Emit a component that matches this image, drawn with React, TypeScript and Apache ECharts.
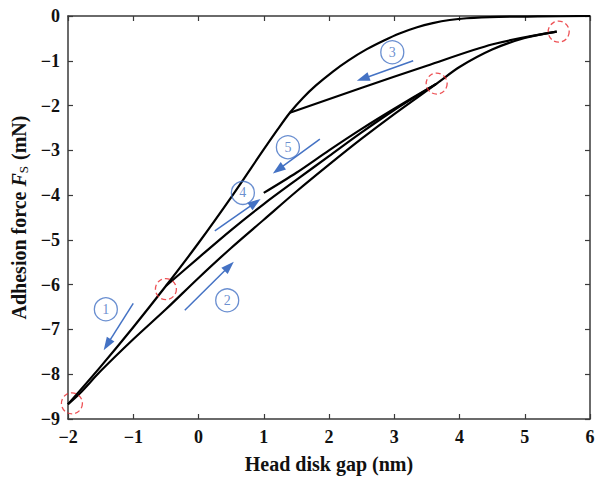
import React, { useEffect, useRef } from "react";
import * as echarts from "echarts";

// x ticks (nm) and y ticks (mN)
const xTicks = [-2, -1, 0, 1, 2, 3, 4, 5, 6];
const yTicks = [-9, -8, -7, -6, -5, -4, -3, -2, -1, 0];

// Curve 1: approach from 6 nm down to -2 nm
const curve1: [number, number][] = [
  [6, 0], [5.2, -0.01], [4.6, -0.02], [4.11, -0.05], [3.85, -0.09], [3.59, -0.16],
  [3.35, -0.25], [3.08, -0.39], [2.85, -0.54], [2.58, -0.74], [2.3, -0.99], [2.06, -1.24],
  [1.8, -1.55], [1.6, -1.83], [1.4, -2.16], [1.2, -2.56], [1.0, -2.98], [0.5, -4.05],
  [0.0, -5.07], [-0.5, -6.03], [-1.0, -6.95], [-1.5, -7.83], [-2, -8.67],
];
// Curve 2: retract from -2 nm to 5.5 nm
const curve2: [number, number][] = [
  [-2, -8.67], [-1.82, -8.43], [-1.5, -7.93], [-1.0, -7.22], [-0.5, -6.55], [0, -5.85],
  [0.5, -5.18], [1.0, -4.55], [1.5, -3.92], [2.0, -3.32], [2.5, -2.74], [3.0, -2.19],
  [3.65, -1.51], [4.0, -1.14], [4.5, -0.75], [5.0, -0.49], [5.49, -0.35],
];
// Curve 3: approach from 5.5 nm to join curve 1
const curve3: [number, number][] = [
  [5.49, -0.35], [4.51, -0.63], [3.5, -1.11], [2.47, -1.62], [1.4, -2.16],
];
// Curve 4: retract from -0.5 nm to 3.65 nm
const curve4: [number, number][] = [
  [-0.5, -6.03], [0, -5.4], [0.5, -4.78], [1.0, -4.2], [1.5, -3.66], [2.0, -3.13],
  [2.5, -2.6], [3.0, -2.1], [3.65, -1.51],
];
// Curve 5: approach from 3.65 nm to 1 nm
const curve5: [number, number][] = [
  [3.65, -1.51], [3.0, -2.07], [2.5, -2.52], [2.0, -3.0], [1.5, -3.5], [1.0, -3.95],
];
// Turning points (red dashed circles)
const turnPoints: [number, number][] = [
  [-1.94, -8.65], [-0.5, -6.1], [3.65, -1.51], [5.52, -0.35],
];
// Direction arrows: [startX, startY, endX, endY]
const arrows: [number, number, number, number][] = [
  [-1.0, -6.42, -1.4, -7.34],
  [-0.21, -6.57, 0.47, -5.59],
  [3.29, -1.0, 2.52, -1.4],
  [0.25, -4.8, 0.87, -4.17],
  [1.86, -2.75, 1.22, -3.43],
];
// Step number labels
const stepLabels: [number, number, string][] = [
  [-1.42, -6.55, "1"],
  [0.44, -6.35, "2"],
  [2.97, -0.81, "3"],
  [0.68, -3.95, "4"],
  [1.37, -2.93, "5"],
];

const BLUE = "#4472C4";
const SERIF = "'Liberation Serif', 'Times New Roman', serif";

export default function App() {
  const ref = useRef<HTMLDivElement>(null);
  useEffect(() => {
    document.body.style.margin = "0";
    const chart = echarts.init(ref.current!, null, { renderer: "svg" });
    const axisLine = { show: true, onZero: false, lineStyle: { color: "#3a3a3a", width: 1.5 } };
    const tick = { show: true, inside: true, length: 5, lineStyle: { color: "#3a3a3a", width: 1.2 } };
    const labelStyle = {
      color: "#111",
      fontFamily: SERIF,
      fontWeight: "bold" as const,
      fontSize: 18,
      formatter: (v: number) => String(v).replace("-", "\u2212"),
    };
    const curveSeries = (data: [number, number][]) => ({
      type: "line",
      data,
      smooth: 0.3,
      symbol: "none",
      lineStyle: { color: "#000", width: 2.2 },
      silent: true,
      z: 3,
    });
    chart.setOption({
      animation: false,
      grid: { left: 68, right: 12, top: 16, bottom: 51 },
      xAxis: [
        {
          type: "value",
          min: xTicks[0],
          max: xTicks[xTicks.length - 1],
          interval: 1,
          position: "bottom",
          axisLine,
          axisTick: tick,
          axisLabel: { ...labelStyle, margin: 9 },
          splitLine: { show: false },
          name: "Head disk gap (nm)",
          nameLocation: "middle",
          nameGap: 35,
          nameTextStyle: { fontFamily: SERIF, fontWeight: "bold", fontSize: 20, color: "#111" },
        },
        {
          type: "value",
          min: xTicks[0],
          max: xTicks[xTicks.length - 1],
          interval: 1,
          position: "top",
          axisLine,
          axisTick: tick,
          axisLabel: { show: false },
          splitLine: { show: false },
        },
      ],
      yAxis: [
        {
          type: "value",
          min: yTicks[0],
          max: yTicks[yTicks.length - 1],
          interval: 1,
          position: "left",
          axisLine,
          axisTick: tick,
          axisLabel: { ...labelStyle, margin: 8 },
          splitLine: { show: false },
          name: "{b|Adhesion force }{i|F}{s|S}{b| (mN)}",
          nameLocation: "middle",
          nameGap: 34,
          nameTextStyle: {
            rich: {
              b: { fontFamily: SERIF, fontWeight: "bold", fontSize: 20, color: "#111" },
              i: { fontFamily: SERIF, fontWeight: "bold", fontStyle: "italic", fontSize: 20, color: "#111" },
              s: { fontFamily: SERIF, fontSize: 13, color: "#111", padding: [8, 1, 0, 0] },
            },
          },
        },
        {
          type: "value",
          min: yTicks[0],
          max: yTicks[yTicks.length - 1],
          interval: 1,
          position: "right",
          axisLine,
          axisTick: tick,
          axisLabel: { show: false },
          splitLine: { show: false },
        },
      ],
      series: [
        curveSeries(curve1),
        curveSeries(curve2),
        curveSeries(curve3),
        curveSeries(curve4),
        curveSeries(curve5),
        {
          type: "scatter",
          data: turnPoints,
          symbol: "circle",
          symbolSize: 21,
          silent: true,
          z: 4,
          itemStyle: {
            color: "rgba(255,255,255,0)",
            borderColor: "#e8262a",
            borderWidth: 1.3,
            borderType: [5, 3],
          },
        },
        {
          type: "line",
          data: [],
          silent: true,
          markLine: {
            silent: true,
            animation: false,
            symbol: ["none", "triangle"],
            symbolSize: [9, 13],
            label: { show: false },
            lineStyle: { color: BLUE, width: 1.5, type: "solid" },
            emphasis: { disabled: true },
            data: arrows.map(([x1, y1, x2, y2]) => [{ coord: [x1, y1] }, { coord: [x2, y2] }]),
          },
        },
        {
          type: "scatter",
          data: stepLabels,
          symbol: "circle",
          symbolSize: 23,
          silent: true,
          z: 5,
          itemStyle: { color: "rgba(255,255,255,0)", borderColor: BLUE, borderWidth: 1.3 },
          label: {
            show: true,
            position: "inside",
            formatter: (p: any) => p.data[2],
            color: BLUE,
            fontFamily: SERIF,
            fontSize: 14,
          },
        },
      ],
    });
    return () => chart.dispose();
  }, []);
  return <div ref={ref} style={{ width: 602, height: 479 }} />;
}
